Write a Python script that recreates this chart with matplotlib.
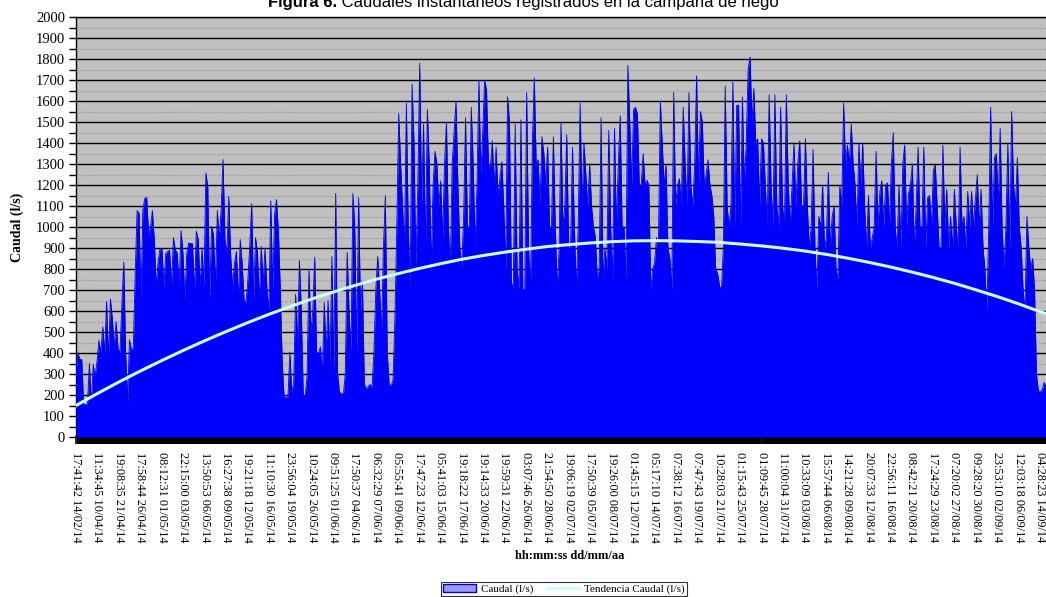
import numpy as np
import matplotlib
matplotlib.use("Agg")
import matplotlib.pyplot as plt
from matplotlib.patches import Patch
from matplotlib.lines import Line2D
from matplotlib.ticker import MultipleLocator, FixedLocator

# caudal instantaneo (l/s), tramos consecutivos de la campaña
caudal_tramo1 = [305, 400, 370, 370, 155, 155, 155, 350, 155, 345, 290, 360, 460, 400, 525, 400,
                 645, 370, 657, 567, 430, 550, 420, 400, 630, 833, 400, 170, 463, 415, 425, 780,
                 1078, 1067, 650, 1082, 1135, 1141, 970, 995, 1078, 940, 717, 837, 897, 897, 717,
                 873, 884, 889, 717, 948, 892, 876, 717, 983, 876, 654, 876, 924, 921, 921, 686,
                 980, 940, 717, 901, 717, 1257, 1194, 654, 1003, 963, 717, 1079, 940, 1082, 1321,
                 940, 876, 1146, 860, 717, 829, 884, 654, 940, 829, 654, 638, 749, 908, 1111, 654,
                 948, 884, 654, 908, 733]
caudal_tramo2 = [898, 700, 605, 1125, 700, 1060, 1130, 980, 700, 350, 190, 190, 190, 405, 210, 260,
                 680, 450, 840, 600, 200, 195, 290, 800, 500, 600, 855, 400, 400, 430, 300, 640,
                 400, 650, 350, 860, 300, 1160, 300, 210, 210, 200, 300, 880, 600, 400, 1160, 1000,
                 400, 1140, 600, 740, 250, 230, 240, 250, 235, 400, 700, 860, 700, 500, 900, 1150,
                 400, 250, 245, 270, 560, 1000, 1540, 1300, 1100, 900, 1590, 1000, 700, 1680, 1400,
                 800, 1200, 1780, 1100, 1490, 900, 1560, 1300, 800, 1200, 1360, 1300, 1100, 1220,
                 950, 1300, 1500, 1000, 800, 1300, 1450, 1600, 1200, 900]
caudal_tramo3 = [811, 1050, 1520, 1000, 1000, 1570, 1300, 900, 1200, 1700, 1250, 1450, 1700, 1650,
                 1300, 1280, 1410, 1200, 1380, 1150, 1230, 1311, 1100, 800, 1620, 1500, 740, 700,
                 1490, 800, 700, 1510, 700, 700, 1640, 900, 700, 1400, 1710, 1300, 1320, 1100, 1430,
                 1350, 1200, 1380, 1000, 1000, 1430, 1000, 700, 900, 1500, 1000, 1100, 1440, 900,
                 900, 1380, 1000, 700, 1000, 1590, 1100, 1400, 1250, 1100, 1300, 1100, 1000, 950,
                 750, 800, 1520, 750, 900, 800, 1460, 1000, 750, 1470, 1000, 1300, 1530, 1000, 1000,
                 750, 1770, 1500, 1200, 1560, 1570, 1540, 1200, 1200, 1350, 1200, 1223, 1200, 700,
                 800, 830, 950, 900, 1600, 1400, 1200]
caudal_tramo4 = [1300, 900, 850, 700, 1640, 1100, 1200, 1230, 1100, 1570, 1300, 1100, 1640, 1200,
                 1100, 1300, 1720, 1200, 1550, 1500, 1200, 1250, 1320, 1200, 1150, 1050, 800, 780,
                 720, 700, 900, 1670, 1100, 1000, 1100, 1690, 1000, 1580, 1580, 1000, 1620, 1200,
                 1400, 1750, 1810, 1500, 1660, 1400, 1420, 1100, 1420, 1400, 1200, 1000, 1630, 1200,
                 1000, 1630, 1100, 1000, 1570, 1100, 1000, 1630, 1200, 1000, 1200, 1400, 1100, 1300,
                 1410, 1100, 1100, 1420, 1100, 900, 1000, 1370, 900, 700, 1050, 1000, 1200, 900,
                 950, 1260, 900, 1050, 1100, 800, 750, 1200, 1100, 1590, 1300, 1390, 1300, 1490,
                 1300, 1200, 1000, 1400, 1200, 1400, 1100, 900]
caudal_tramo5 = [1150, 900, 950, 1000, 1360, 1000, 1170, 1220, 1000, 1200, 1210, 1000, 1300, 1450,
                 1000, 900, 1200, 900, 1300, 1390, 1000, 1160, 1200, 1300, 900, 1100, 1380, 1000,
                 1000, 1380, 900, 1140, 1150, 1000, 1270, 1300, 1100, 900, 900, 1390, 1000, 1180,
                 900, 1050, 900, 1180, 1000, 900, 1380, 1000, 1050, 900, 1170, 1000, 1170, 1000,
                 1130, 1250, 1000, 1180, 900, 800, 600, 1000, 1570, 1000, 1330, 1350, 1100, 1470,
                 1000, 800, 1000, 1400, 900, 1550, 1200, 1100, 1330, 1000, 900, 700, 600, 1050, 900,
                 800, 850, 700, 300, 220, 215, 225, 260, 240]

# tendencia (l/s) en cada fecha rotulada del eje, y al final del registro
tendencia = [150, 207, 262, 314, 364, 412, 458, 502, 544, 584, 621, 657, 690, 721, 751, 777,
             802, 825, 846, 864, 880, 894, 907, 916, 924, 930, 934, 935, 934, 931, 927, 919,
             910, 899, 886, 870, 852, 832, 810, 786, 760, 732, 701, 669, 634, 597, 588]

etiquetas_x = [
    "17:41:42 14/02/14", "11:34:45 10/04/14", "19:08:35 21/04/14", "17:58:44 26/04/14",
    "08:12:31 01/05/14", "22:15:00 03/05/14", "13:50:53 06/05/14", "16:27:38 09/05/14",
    "19:21:18 12/05/14", "11:10:30 16/05/14", "23:56:04 19/05/14", "10:24:05 26/05/14",
    "09:51:25 01/06/14", "17:50:37 04/06/14", "06:32:29 07/06/14", "05:55:41 09/06/14",
    "17:47:23 12/06/14", "05:41:03 15/06/14", "19:18:22 17/06/14", "19:14:33 20/06/14",
    "19:59:31 22/06/14", "03:07:46 26/06/14", "21:54:50 28/06/14", "19:06:19 02/07/14",
    "17:50:39 05/07/14", "19:26:00 08/07/14", "01:45:15 12/07/14", "05:17:10 14/07/14",
    "07:38:12 16/07/14", "07:47:43 19/07/14", "10:28:03 21/07/14", "01:15:43 25/07/14",
    "01:09:45 28/07/14", "11:00:04 31/07/14", "10:33:09 03/08/14", "15:57:44 06/08/14",
    "14:21:28 09/08/14", "20:07:33 12/08/14", "22:56:11 16/08/14", "08:42:21 20/08/14",
    "17:24:29 23/08/14", "07:20:02 27/08/14", "09:28:20 30/08/14", "23:53:10 02/09/14",
    "12:03:18 06/09/14", "04:28:23 14/09/14",
]

caudal = np.array(caudal_tramo1 + caudal_tramo2 + caudal_tramo3 + caudal_tramo4 + caudal_tramo5,
                  dtype=float)
idx = np.arange(len(caudal))
n_ult = len(caudal) - 1

# posiciones de las fechas rotuladas sobre el eje de categorias
pos = np.linspace(0, 0.9938 * n_ult, len(etiquetas_x))
pos_tend = np.append(pos, n_ult)

serif = "Liberation Serif"
W, H = 1046, 597
fig = plt.figure(figsize=(W / 100, H / 100), dpi=100)
ax = fig.add_axes([76 / W, 1 - 437 / H, 970 / W, 420 / H])
ax.set_facecolor("#c0c0c0")

ax.fill_between(idx, 0, caudal, color="#0000ff", linewidth=0, zorder=3)
ax.plot(idx, caudal, color="#0000e0", linewidth=0.6, zorder=3)
ax.plot(pos_tend, tendencia, color="#ccffff", linewidth=2.2, zorder=4)

ax.set_xlim(0, n_ult)
ax.set_ylim(0, 2000)
ax.yaxis.set_major_locator(MultipleLocator(100))
ax.yaxis.set_minor_locator(MultipleLocator(50))
ax.grid(which="major", axis="y", color="black", linewidth=1.0, zorder=1)
ax.grid(which="minor", axis="y", color="#a6a6a6", linewidth=1.0, linestyle=(0, (2, 1)), zorder=1)
ax.set_axisbelow(True)

ax.tick_params(axis="y", which="major", direction="out", length=5, width=1, labelsize=10.5, pad=3)
ax.tick_params(axis="y", which="minor", direction="out", length=5, width=1)
for lab in ax.get_yticklabels():
    lab.set_fontfamily(serif)

ax.xaxis.set_major_locator(FixedLocator(pos))
ax.set_xticklabels(etiquetas_x, rotation=-90, fontsize=8.8, fontfamily=serif, va="top", ha="center")
ax.xaxis.set_minor_locator(FixedLocator(idx))
ax.tick_params(axis="x", which="major", length=5, width=1.2, pad=6)
ax.tick_params(axis="x", which="minor", length=5, width=1.6)

ax.spines["right"].set_visible(False)
ax.spines["left"].set_linewidth(1.0)
ax.spines["bottom"].set_linewidth(1.5)
ax.spines["top"].set_linewidth(1.0)

ax.set_ylabel("Caudal (l/s)", fontsize=10, fontweight="bold", fontfamily=serif)
ax.yaxis.set_label_coords(-52 / 970, 0.5)
fig.text(570 / W, 1 - 556 / H, "hh:mm:ss dd/mm/aa", fontsize=9, fontweight="bold",
         fontfamily=serif, ha="center", va="center")

# titulo con parte en negrita
t1 = fig.text(0, 1 - 7 / H, "Figura 6.", fontsize=12, fontweight="bold",
              fontfamily="Liberation Sans", va="baseline")
t2 = fig.text(0, 1 - 7 / H, " Caudales instantaneos registrados en la campaña de riego",
              fontsize=12, fontfamily="Liberation Sans", va="baseline")
fig.canvas.draw()
r = fig.canvas.get_renderer()
w1 = t1.get_window_extent(r).width
w2 = t2.get_window_extent(r).width
x0 = 523 - (w1 + w2) / 2
t1.set_x(x0 / W)
t2.set_x((x0 + w1) / W)

handles = [Patch(facecolor="#9999ff", edgecolor="#0000cc", linewidth=1.0),
           Line2D([], [], color="#ccffff", linewidth=2)]
leg = fig.legend(handles, ["Caudal (l/s)", "Tendencia Caudal (l/s)"], loc="center",
                 bbox_to_anchor=(564 / W, 1 - 589 / H), ncol=2, frameon=True, fancybox=False,
                 prop={"family": serif, "size": 8}, handlelength=3.0, handleheight=0.8,
                 columnspacing=1.2, handletextpad=0.4, borderpad=0.15, borderaxespad=0)
leg.get_frame().set_edgecolor("black")
leg.get_frame().set_linewidth(0.8)

fig.savefig("out.png", dpi=100)
